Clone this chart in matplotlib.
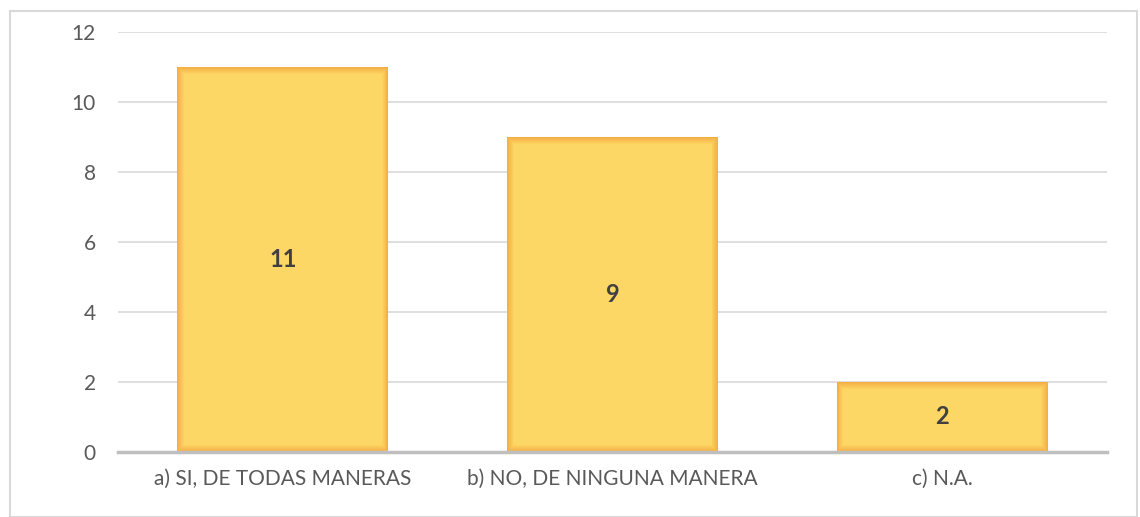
import matplotlib.pyplot as plt
from matplotlib.patches import Rectangle
from matplotlib.colors import to_rgb

categorias = ["a) SI, DE TODAS MANERAS", "b) NO, DE NINGUNA MANERA", "c) N.A."]
valores = [11, 9, 2]
yticks = [0, 2, 4, 6, 8, 10, 12]

plt.rcParams['font.family'] = ['Lato', 'DejaVu Sans']

fig = plt.figure(figsize=(11.4, 5.17), dpi=100)
# borde exterior del grafico
fig.patches.append(Rectangle((10 / 1140, 0), 1127 / 1140, 506 / 517, transform=fig.transFigure,
                             fill=False, edgecolor='#D9D9D9', linewidth=1.5))
ax = fig.add_axes([118 / 1140, 65 / 517, 989 / 1140, 420 / 517])

x = range(len(categorias))
ancho = 0.64
# barras con borde naranja difuminado (capas)
c1 = to_rgb('#F5AE45')
c2 = to_rgb('#FDD765')
n = 8
for k in range(n):
    t = k / (n - 1)
    col = tuple(a + (b - a) * t for a, b in zip(c1, c2))
    dx = k * 0.0028
    dy = k * 0.028
    ax.bar(x, [v - 2 * dy for v in valores], width=ancho - 2 * dx, bottom=dy, color=col,
           zorder=2 + k * 0.1, linewidth=0)

for i, v in enumerate(valores):
    ax.text(i, v / 2, str(v), ha='center', va='center', fontsize=17, fontweight='bold',
            color='#404040', zorder=5)

ax.set_xlim(-0.5, len(categorias) - 0.5)
ax.set_ylim(0, 12)
ax.set_yticks(yticks)
ax.set_xticks(list(x))
ax.set_xticklabels(categorias)
ax.tick_params(axis='both', length=0, labelsize=15, colors='#595959')
ax.tick_params(axis='y', pad=16)
ax.tick_params(axis='x', pad=12)
ax.grid(axis='y', color='#D9D9D9', linewidth=1.2, zorder=0)
for s in ['top', 'right', 'left']:
    ax.spines[s].set_visible(False)
ax.spines['bottom'].set_color('#BFBFBF')
ax.spines['bottom'].set_linewidth(2.5)
ax.spines['bottom'].set_zorder(6)

fig.savefig('out.png', dpi=100)
